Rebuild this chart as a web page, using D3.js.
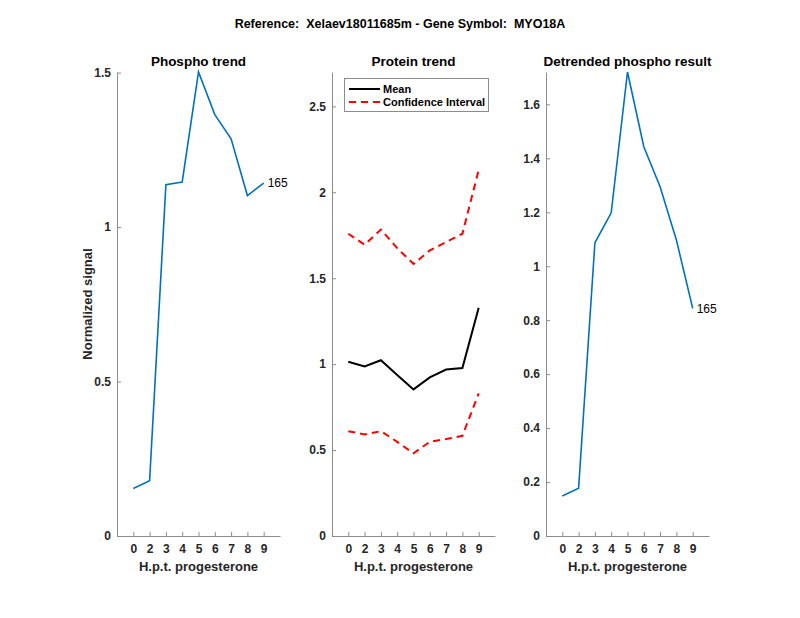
<!DOCTYPE html>
<html>
<head>
<meta charset="utf-8">
<script src="https://cdn.jsdelivr.net/npm/d3@7"></script>
<style>
  body { margin: 0; background: #fff; }
  svg { font-family: "Liberation Sans", Arial, sans-serif; }
  .axis path, .axis line { stroke: #8c8c8c; }
  .axis text { font-size: 12px; font-weight: bold; fill: #262626; }
</style>
</head>
<body>
<svg width="800" height="618"></svg>
<script>
let timepoints = ['0', '2', '3', '4', '5', '6', '7', '8', '9']

let phospho = [0.154, 0.179, 1.137, 1.146, 1.502, 1.364, 1.286, 1.102, 1.142]

let proteinMean = [1.014, 0.986, 1.023, 0.937, 0.853, 0.923, 0.969, 0.977, 1.328]
let proteinUpper = [1.759, 1.695, 1.783, 1.675, 1.583, 1.662, 1.71, 1.759, 2.13]
let proteinLower = [0.61, 0.591, 0.61, 0.548, 0.481, 0.548, 0.564, 0.583, 0.83]

let detrended = [0.148, 0.177, 1.087, 1.198, 1.72, 1.443, 1.295, 1.097, 0.844]

let peptideId = '165'

let svg = d3.select('svg')
let plotTop = 72
let plotBottom = 536
let panelWidth = 163

svg.append('text')
    .attr('x', 400)
    .attr('y', 28)
    .style('text-anchor', 'middle')
    .style('font-size', '12.5px')
    .style('font-weight', 'bold')
    .style('white-space', 'pre')
    .text('Reference:  Xelaev18011685m - Gene Symbol:  MYO18A')

function makePanel(left, yMax, yTicks, title) {
  let x = d3.scaleLinear().domain([0, 10]).range([left, left + panelWidth])
  let y = d3.scaleLinear().domain([0, yMax]).range([plotBottom, plotTop])

  let xAxis = d3.axisBottom(x)
                .tickValues(d3.range(1, 10))
                .tickFormat(i => timepoints[i - 1])
                .tickSizeInner(-4)
                .tickSizeOuter(0)
                .tickPadding(8)

  let yAxis = d3.axisLeft(y)
                .tickValues(yTicks)
                .tickFormat(d3.format('~g'))
                .tickSizeInner(-4)
                .tickSizeOuter(0)
                .tickPadding(6)

  svg.append('g')
      .attr('class', 'axis')
      .attr('transform', `translate(0, ${plotBottom})`)
      .call(xAxis)

  svg.append('g')
      .attr('class', 'axis')
      .attr('transform', `translate(${left}, 0)`)
      .call(yAxis)

  svg.append('text')
      .attr('x', left + panelWidth / 2)
      .attr('y', 66)
      .style('text-anchor', 'middle')
      .style('font-size', '13.5px')
      .style('font-weight', 'bold')
      .text(title)

  svg.append('text')
      .attr('x', left + panelWidth / 2)
      .attr('y', 571)
      .style('text-anchor', 'middle')
      .style('font-size', '13px')
      .style('font-weight', 'bold')
      .style('fill', '#262626')
      .text('H.p.t. progesterone')

  return { x, y }
}

function drawLine(p, values, color, width, dash) {
  let line = d3.line()
                .x((d, i) => p.x(i + 1))
                .y(d => p.y(d))
  svg.append('path')
      .datum(values)
      .attr('d', line)
      .attr('fill', 'none')
      .attr('stroke', color)
      .attr('stroke-width', width)
      .attr('stroke-dasharray', dash)
}

function drawLabel(p, values) {
  let last = values.length - 1
  svg.append('text')
      .attr('x', p.x(last + 1) + 4)
      .attr('y', p.y(values[last]))
      .attr('dy', '0.35em')
      .style('font-size', '12px')
      .text(peptideId)
}

// phospho trend
let p1 = makePanel(117, 1.502, [0, 0.5, 1, 1.5], 'Phospho trend')
drawLine(p1, phospho, '#0072BD', 1.6, null)
drawLabel(p1, phospho)

svg.append('text')
    .attr('transform', 'rotate(-90)')
    .attr('x', -(plotTop + plotBottom) / 2)
    .attr('y', 92)
    .style('text-anchor', 'middle')
    .style('font-size', '13px')
    .style('font-weight', 'bold')
    .style('fill', '#262626')
    .text('Normalized signal')

// protein trend
let p2 = makePanel(332, 2.7, [0, 0.5, 1, 1.5, 2, 2.5], 'Protein trend')
drawLine(p2, proteinUpper, '#ff0000', 2, '7,5')
drawLine(p2, proteinLower, '#ff0000', 2, '7,5')
drawLine(p2, proteinMean, '#000000', 2, null)

let legend = svg.append('g')
legend.append('rect')
    .attr('x', 344.5)
    .attr('y', 78.5)
    .attr('width', 144)
    .attr('height', 33)
    .attr('fill', '#fff')
    .attr('stroke', '#8c8c8c')
let legendItems = [
  { label: 'Mean', color: '#000000', dash: null, yy: 89 },
  { label: 'Confidence Interval', color: '#ff0000', dash: '7,5', yy: 102 }
]
legendItems.forEach(item => {
  legend.append('line')
      .attr('x1', 349).attr('x2', 380)
      .attr('y1', item.yy).attr('y2', item.yy)
      .attr('stroke', item.color)
      .attr('stroke-width', 2)
      .attr('stroke-dasharray', item.dash)
  legend.append('text')
      .attr('x', 383)
      .attr('y', item.yy)
      .attr('dy', '0.35em')
      .style('font-size', '11px')
      .style('font-weight', 'bold')
      .text(item.label)
})

// detrended
let p3 = makePanel(546, 1.72, [0, 0.2, 0.4, 0.6, 0.8, 1, 1.2, 1.4, 1.6], 'Detrended phospho result')
drawLine(p3, detrended, '#0072BD', 1.6, null)
drawLabel(p3, detrended)
</script>
</body>
</html>
